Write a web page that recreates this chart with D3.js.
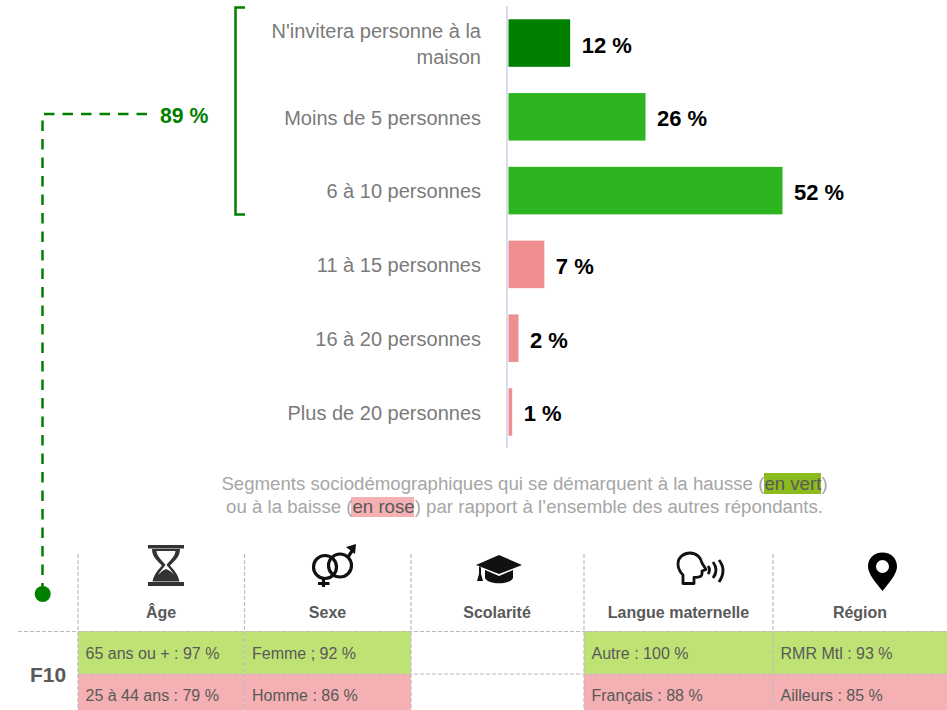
<!DOCTYPE html>
<html><head><meta charset="utf-8">
<script src="https://cdn.jsdelivr.net/npm/d3@7"></script>
<style>html,body{margin:0;padding:0;background:#fff}svg{display:block}text{font-family:"Liberation Sans",Arial,sans-serif}</style>
</head><body><svg id="c" width="947" height="710"></svg>
<script>
const categories=[["N'invitera personne à la","maison"],["Moins de 5 personnes"],["6 à 10 personnes"],["11 à 15 personnes"],["16 à 20 personnes"],["Plus de 20 personnes"]];
const values=[11.7,26,52,6.8,1.9,0.7];
const valueLabels=["12 %","26 %","52 %","7 %","2 %","1 %"];
const barColors=["#008000","#2cb51f","#2cb51f","#ee8e91","#ee8e91","#ee8e91"];
const groupTotal="89 %";
const columns=["Âge","Sexe","Scolarité","Langue maternelle","Région"];
const rowName="F10";
const highRow=["65 ans ou + : 97 %","Femme ; 92 %","","Autre : 100 %","RMR Mtl : 93 %"];
const lowRow=["25 à 44 ans : 79 %","Homme : 86 %","","Français : 88 %","Ailleurs : 85 %"];

const svg=d3.select("#c");
const x=d3.scaleLinear().domain([0,52]).range([508.5,782.5]);
const y=d3.scaleBand().domain(d3.range(values.length)).range([6,449]).paddingInner(0.356).paddingOuter(0.18);

svg.append("line").attr("x1",507).attr("x2",507).attr("y1",6).attr("y2",448).attr("stroke","#d9dcec").attr("stroke-width",2);
svg.selectAll("rect.bar").data(values).join("rect").attr("class","bar")
 .attr("x",x(0)).attr("y",(d,i)=>y(i)).attr("width",d=>x(d)-x(0)).attr("height",y.bandwidth()).attr("fill",(d,i)=>barColors[i]);
svg.selectAll("text.val").data(values).join("text").attr("class","val")
 .attr("x",d=>x(d)+11.5).attr("y",(d,i)=>y(i)+y.bandwidth()/2+9.5)
 .attr("font-size",22).attr("font-weight","bold").attr("fill","#000").text((d,i)=>valueLabels[i]);
categories.forEach((lines,i)=>{
 const cy=y(i)+y.bandwidth()/2;
 const t=svg.append("text").attr("text-anchor","end").attr("font-size",20).attr("fill","#7a7a7a");
 lines.forEach((l,k)=>t.append("tspan").attr("x",481).attr("y",cy+7.8+(k-(lines.length-1)/2)*26).text(l));
});

// group bracket and link
const green="#008000";
svg.append("path").attr("d","M245,7.5H235.5V214.5H245").attr("fill","none").attr("stroke",green).attr("stroke-width",2.5);
svg.append("text").attr("x",160).attr("y",123).attr("font-size",21.2).attr("font-weight","bold").attr("fill",green).text(groupTotal);
svg.append("path").attr("d","M147,114H42.5V594").attr("fill","none").attr("stroke",green).attr("stroke-width",2.5).attr("stroke-dasharray","10.5,8");
svg.append("circle").attr("cx",42.7).attr("cy",594).attr("r",8).attr("fill",green);

// note
const note=[["Segments sociodémographiques qui se démarquent à la hausse (",0],["en vert",1],[")",0]];
const note2=[["ou à la baisse (",0],["en rose",2],[") par rapport à l’ensemble des autres répondants.",0]];
svg.append("rect").attr("x",764).attr("y",473).attr("width",57).attr("height",21).attr("fill","#8cbb1e");
svg.append("rect").attr("x",351).attr("y",497).attr("width",63).attr("height",20).attr("fill","#f4b0b2");
[[note,490],[note2,513]].forEach(([parts,yy])=>{
 const t=svg.append("text").attr("x",524.5).attr("y",yy).attr("text-anchor","middle").attr("font-size",18.65).attr("fill","#a6a6a6");
 parts.forEach(p=>t.append("tspan").attr("fill",p[1]?"#595959":"#a6a6a6").text(p[0]));
});

// table
const colX=[78,244.5,411,584,773,947];
const rowY=[631,674,710];
columns.forEach((c,i)=>{
 if(highRow[i]){
  svg.append("rect").attr("x",colX[i]).attr("y",rowY[0]).attr("width",colX[i+1]-colX[i]).attr("height",rowY[1]-rowY[0]).attr("fill","#bfe274");
  svg.append("rect").attr("x",colX[i]).attr("y",rowY[1]).attr("width",colX[i+1]-colX[i]).attr("height",rowY[2]-rowY[1]).attr("fill","#f4b0b2");
 }
});
const dash={stroke:"#bdbdbd","stroke-width":1.2,"stroke-dasharray":"4,2"};
const dl=(a,b,c,d)=>{const l=svg.append("line").attr("x1",a).attr("y1",b).attr("x2",c).attr("y2",d);for(const k in dash)l.attr(k,dash[k]);};
colX.slice(0,5).forEach(v=>dl(v,554,v,710));
dl(18,631.5,947,631.5);
dl(78,674,947,674);
const cx=[161,327.5,497,678.5,860];
columns.forEach((c,i)=>{
 svg.append("text").attr("x",cx[i]).attr("y",618).attr("text-anchor","middle").attr("font-size",16).attr("font-weight","bold").attr("fill","#595959").text(c);
 if(highRow[i]){
  svg.append("text").attr("x",colX[i]+7.5).attr("y",659).attr("font-size",16).attr("fill","#595959").text(highRow[i]);
  svg.append("text").attr("x",colX[i]+7.5).attr("y",701).attr("font-size",16).attr("fill","#595959").text(lowRow[i]);
 }
});
svg.append("text").attr("x",30).attr("y",682).attr("font-size",21).attr("font-weight","bold").attr("fill","#595959").text(rowName);

// icons
svg.append("path").attr("fill","#333").attr("fill-rule","evenodd").attr("d","M148,545H184V548.5H148ZM148,582H184V586H148ZM152,549H180C180,558 173,562 170,565.5C173,569 178,574 179.5,581.5H152.5C154,574 159,569 162,565.5C159,562 152,558 152,549ZM156.5,551C157,557 163,561 165.5,565C163.5,568 160,571 158,575C161,572 163,570 166,569C169,570 172,572 174,575C172,571 169,568 166.5,565C169,561 175,557 175.5,551Z");
const g2=svg.append("g").attr("fill","none").attr("stroke","#111").attr("stroke-width",3.2);
g2.append("circle").attr("cx",325).attr("cy",567).attr("r",11.5);
g2.append("circle").attr("cx",340).attr("cy",565.5).attr("r",11.5);
g2.append("path").attr("d","M323.5,579V587M318,583.5H329.5M348,557L354,548");
svg.append("path").attr("d","M346,547L356,544L355,554Z").attr("fill","#111");
svg.append("path").attr("fill","#111").attr("d","M499,555L522,565L499,574L476,565ZM485,570L499,576L513,570V578C510,585 488,585 485,578ZM479,566.5L481,567.5V574L483,581H477L479,574Z");
svg.append("path").attr("fill","none").attr("stroke","#111").attr("stroke-width",2.8).attr("stroke-linejoin","round")
 .attr("d","M683,583.5V575C679,571 678,567 678,564C678,557 684,553 690,553C697,553 701,558 702,563L706,569.5L702,571V574C702,577 699,577.5 694,577.5V583.5Z");
svg.append("path").attr("fill","none").attr("stroke","#111").attr("stroke-width",2.8).attr("d","M708,566Q711,570 708,574M713,562Q719,570 713,578M719,560Q727,570 719,582");
svg.append("path").attr("fill","#000").attr("fill-rule","evenodd").attr("d","M882.5,552.5C891,552.5 897,558.5 897,566.5C897,574 889,583 882.5,591C876,583 868,574 868,566.5C868,558.5 874,552.5 882.5,552.5ZM882.5,560A6.5,6.5 0 1,0 882.5,573A6.5,6.5 0 1,0 882.5,560Z");
</script></body></html>
